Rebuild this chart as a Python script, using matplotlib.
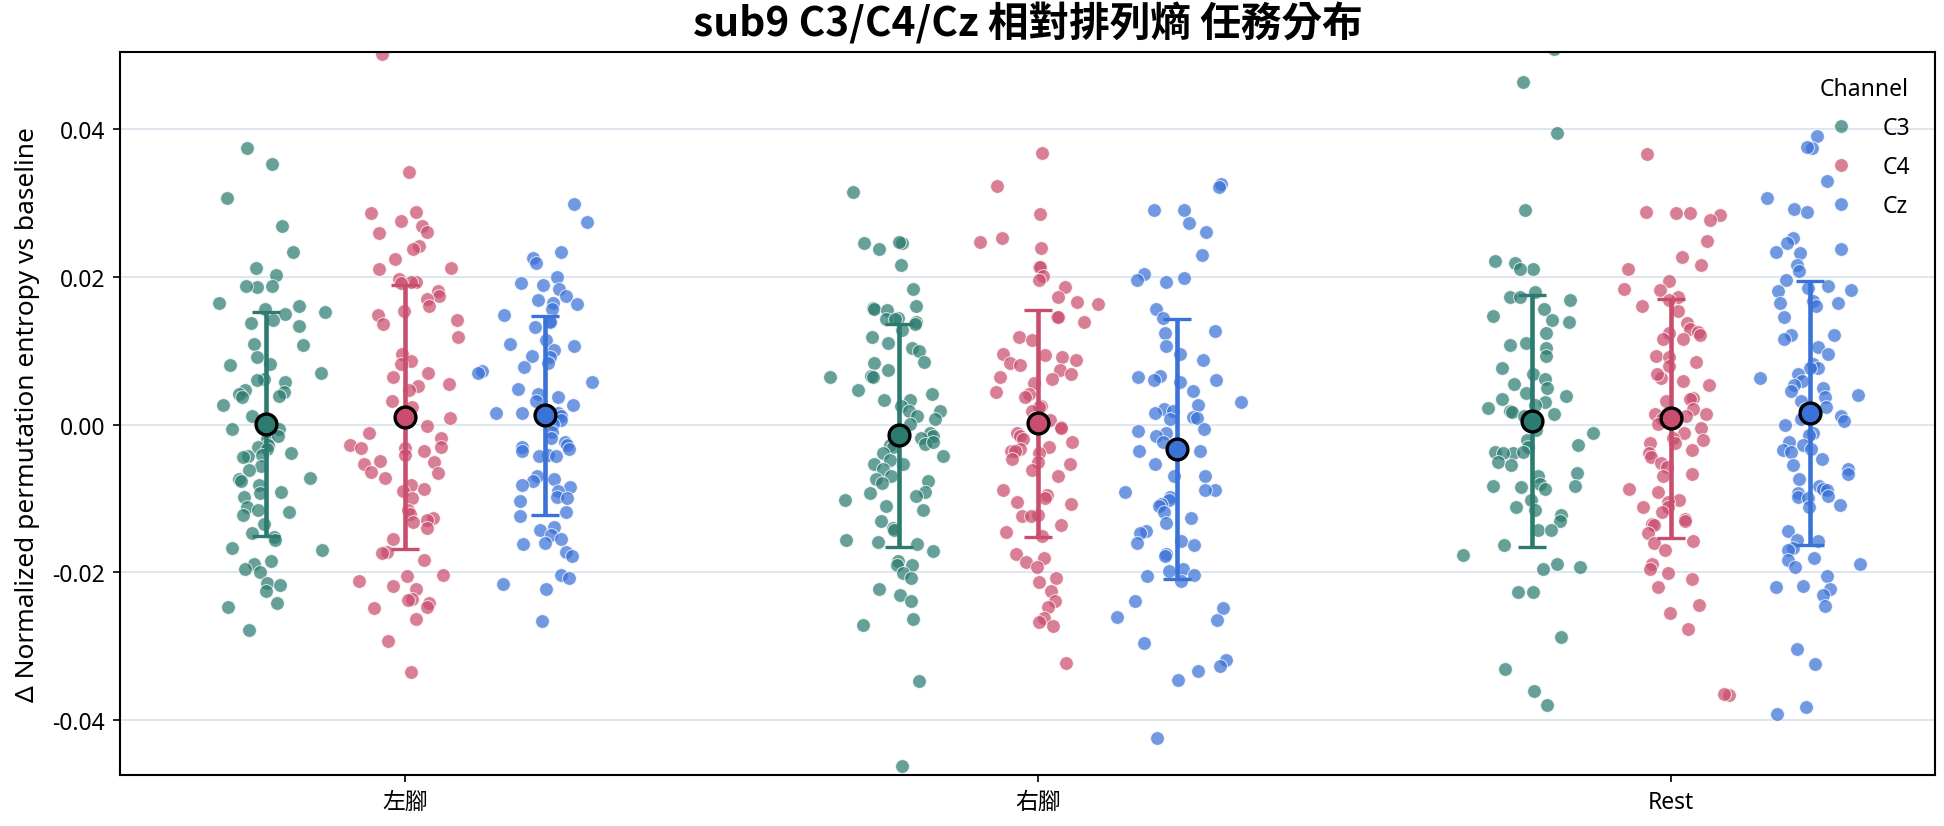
import numpy as np
import matplotlib
matplotlib.use("Agg")
from matplotlib import pyplot as plt
from matplotlib.lines import Line2D

plt.rcParams['font.family'] = ['Noto Sans', 'Noto Sans CJK TC', 'DejaVu Sans']
plt.rcParams['axes.unicode_minus'] = False

tasks = ["左腳", "右腳", "Rest"]
channels = ["C3", "C4", "Cz"]
colors = {"C3": "#2b7b70", "C4": "#c94d6d", "Cz": "#3a72d8"}

# delta normalized permutation entropy
left_c3 = [0.0374, 0.0353, 0.0307, 0.0269, 0.0233, 0.0212, 0.0202, 0.0187, 0.0186, 0.0188,
           0.0165, 0.0161, 0.0157, 0.0152, 0.0150, 0.0141, 0.0137, 0.0134, 0.0109, 0.0107,
           0.0091, 0.0082, 0.0080, 0.0070, 0.0062, 0.0060, 0.0057, 0.0047, 0.0044, 0.0042,
           0.0039, 0.0037, 0.0026, 0.0011, -0.0006, -0.0006, -0.0020, -0.0015, -0.0028, -0.0030,
           -0.0033, -0.0038, -0.0041, -0.0043, -0.0044, -0.0056, -0.0061, -0.0072, -0.0074, -0.0077,
           -0.0082, -0.0091, -0.0093, -0.0098, -0.0111, -0.0116, -0.0118, -0.0122, -0.0134, -0.0147,
           -0.0152, -0.0156, -0.0167, -0.0170, -0.0184, -0.0188, -0.0196, -0.0199, -0.0214, -0.0217,
           -0.0225, -0.0242, -0.0247, -0.0278]
left_c4 = [0.0501, 0.0342, 0.0287, 0.0286, 0.0276, 0.0269, 0.0261, 0.0259, 0.0241, 0.0237,
           0.0224, 0.0212, 0.0210, 0.0197, 0.0193, 0.0193, 0.0192, 0.0181, 0.0174, 0.0170,
           0.0161, 0.0153, 0.0148, 0.0141, 0.0136, 0.0119, 0.0095, 0.0086, 0.0082, 0.0070,
           0.0065, 0.0055, 0.0052, 0.0047, 0.0032, 0.0024, 0.0014, 0.0009, -0.0002, -0.0011,
           -0.0018, -0.0028, -0.0030, -0.0032, -0.0032, -0.0036, -0.0041, -0.0049, -0.0051, -0.0054,
           -0.0064, -0.0066, -0.0072, -0.0082, -0.0087, -0.0090, -0.0100, -0.0116, -0.0121, -0.0126,
           -0.0129, -0.0132, -0.0140, -0.0155, -0.0173, -0.0174, -0.0183, -0.0204, -0.0205, -0.0211,
           -0.0218, -0.0222, -0.0236, -0.0237, -0.0241, -0.0247, -0.0248, -0.0263, -0.0293, -0.0335]
left_cz = [0.0298, 0.0274, 0.0233, 0.0225, 0.0219, 0.0199, 0.0192, 0.0189, 0.0184, 0.0174,
           0.0168, 0.0165, 0.0163, 0.0157, 0.0148, 0.0140, 0.0139, 0.0132, 0.0114, 0.0109,
           0.0106, 0.0101, 0.0093, 0.0091, 0.0083, 0.0078, 0.0072, 0.0070, 0.0057, 0.0048,
           0.0042, 0.0037, 0.0032, 0.0026, 0.0016, 0.0015, 0.0015, 0.0012, 0.0006, 0.0001,
           -0.0010, -0.0018, -0.0023, -0.0028, -0.0030, -0.0033, -0.0036, -0.0041, -0.0043, -0.0043,
           -0.0069, -0.0074, -0.0077, -0.0082, -0.0085, -0.0090, -0.0098, -0.0100, -0.0103, -0.0118,
           -0.0124, -0.0139, -0.0142, -0.0149, -0.0155, -0.0160, -0.0162, -0.0173, -0.0178, -0.0204,
           -0.0208, -0.0215, -0.0223, -0.0266]
right_c3 = [0.0315, 0.0245, 0.0247, 0.0245, 0.0237, 0.0216, 0.0184, 0.0160, 0.0158, 0.0156,
            0.0155, 0.0144, 0.0143, 0.0143, 0.0139, 0.0136, 0.0128, 0.0119, 0.0110, 0.0104,
            0.0100, 0.0085, 0.0083, 0.0074, 0.0066, 0.0065, 0.0065, 0.0047, 0.0042, 0.0033,
            0.0033, 0.0025, 0.0018, 0.0018, 0.0012, 0.0007, 0.0001, -0.0012, -0.0015, -0.0018,
            -0.0013, -0.0026, -0.0027, -0.0024, -0.0030, -0.0039, -0.0042, -0.0048, -0.0053, -0.0054,
            -0.0060, -0.0069, -0.0073, -0.0076, -0.0079, -0.0092, -0.0091, -0.0097, -0.0102, -0.0110,
            -0.0115, -0.0130, -0.0140, -0.0142, -0.0156, -0.0159, -0.0162, -0.0171, -0.0184, -0.0190,
            -0.0190, -0.0201, -0.0207, -0.0222, -0.0231, -0.0239, -0.0263, -0.0271, -0.0347, -0.0462]
right_c4 = [0.0367, 0.0323, 0.0285, 0.0253, 0.0247, 0.0239, 0.0213, 0.0213, 0.0201, 0.0195,
            0.0186, 0.0172, 0.0166, 0.0163, 0.0146, 0.0145, 0.0139, 0.0119, 0.0115, 0.0094,
            0.0095, 0.0092, 0.0088, 0.0083, 0.0080, 0.0074, 0.0068, 0.0065, 0.0062, 0.0056,
            0.0044, 0.0041, 0.0037, 0.0025, 0.0024, 0.0019, 0.0009, 0.0007, 0.0006, -0.0003,
            -0.0005, -0.0012, -0.0015, -0.0019, -0.0024, -0.0030, -0.0033, -0.0036, -0.0036, -0.0039,
            -0.0047, -0.0050, -0.0053, -0.0062, -0.0069, -0.0088, -0.0095, -0.0100, -0.0105, -0.0108,
            -0.0122, -0.0124, -0.0124, -0.0136, -0.0145, -0.0151, -0.0175, -0.0181, -0.0186, -0.0193,
            -0.0208, -0.0213, -0.0225, -0.0239, -0.0247, -0.0262, -0.0267, -0.0272, -0.0323]
right_cz = [0.0326, 0.0322, 0.0290, 0.0290, 0.0273, 0.0260, 0.0230, 0.0204, 0.0198, 0.0196,
            0.0193, 0.0156, 0.0144, 0.0127, 0.0124, 0.0106, 0.0095, 0.0088, 0.0065, 0.0060,
            0.0066, 0.0060, 0.0057, 0.0045, 0.0031, 0.0027, 0.0021, 0.0018, 0.0015, 0.0010,
            0.0009, 0.0007, -0.0006, -0.0009, -0.0011, -0.0015, -0.0024, -0.0036, -0.0036, -0.0054,
            -0.0069, -0.0069, -0.0088, -0.0089, -0.0091, -0.0098, -0.0102, -0.0108, -0.0110, -0.0118,
            -0.0126, -0.0133, -0.0144, -0.0147, -0.0157, -0.0160, -0.0163, -0.0175, -0.0178, -0.0196,
            -0.0198, -0.0204, -0.0205, -0.0239, -0.0248, -0.0211, -0.0260, -0.0265, -0.0295, -0.0318,
            -0.0327, -0.0334, -0.0346, -0.0424]
rest_c3 = [0.0508, 0.0463, 0.0395, 0.0290, 0.0221, 0.0218, 0.0211, 0.0210, 0.0179, 0.0173,
           0.0169, 0.0173, 0.0156, 0.0147, 0.0142, 0.0139, 0.0124, 0.0111, 0.0108, 0.0103,
           0.0093, 0.0077, 0.0069, 0.0061, 0.0055, 0.0050, 0.0043, 0.0038, 0.0034, 0.0030,
           0.0027, 0.0022, 0.0019, 0.0017, 0.0014, 0.0011, 0.0003, -0.0008, -0.0012, -0.0021,
           -0.0028, -0.0031, -0.0037, -0.0039, -0.0039, -0.0037, -0.0050, -0.0055, -0.0065, -0.0070,
           -0.0081, -0.0083, -0.0083, -0.0087, -0.0085, -0.0102, -0.0112, -0.0115, -0.0123, -0.0131,
           -0.0143, -0.0143, -0.0163, -0.0176, -0.0188, -0.0193, -0.0196, -0.0227, -0.0227, -0.0288,
           -0.0330, -0.0361, -0.0380]
rest_c4 = [0.0366, 0.0284, 0.0286, 0.0277, 0.0288, 0.0286, 0.0248, 0.0226, 0.0216, 0.0210,
           0.0194, 0.0184, 0.0182, 0.0173, 0.0168, 0.0161, 0.0153, 0.0138, 0.0124, 0.0129,
           0.0125, 0.0121, 0.0116, 0.0116, 0.0093, 0.0092, 0.0085, 0.0079, 0.0063, 0.0069,
           0.0059, 0.0053, 0.0036, 0.0032, 0.0034, 0.0021, 0.0014, 0.0014, 0.0011, 0.0008,
           0.0001, -0.0005, -0.0012, -0.0018, -0.0021, -0.0025, -0.0025, -0.0034, -0.0039, -0.0044,
           -0.0052, -0.0057, -0.0067, -0.0070, -0.0087, -0.0091, -0.0102, -0.0105, -0.0112, -0.0112,
           -0.0118, -0.0128, -0.0131, -0.0134, -0.0136, -0.0147, -0.0157, -0.0160, -0.0169, -0.0188,
           -0.0196, -0.0201, -0.0209, -0.0220, -0.0244, -0.0255, -0.0277, -0.0366, -0.0364]
rest_cz = [0.0391, 0.0374, 0.0376, 0.0329, 0.0307, 0.0292, 0.0287, 0.0253, 0.0245, 0.0237,
           0.0234, 0.0232, 0.0216, 0.0208, 0.0195, 0.0187, 0.0185, 0.0182, 0.0180, 0.0167,
           0.0164, 0.0161, 0.0165, 0.0145, 0.0121, 0.0121, 0.0116, 0.0105, 0.0096, 0.0082,
           0.0076, 0.0076, 0.0069, 0.0063, 0.0059, 0.0053, 0.0050, 0.0045, 0.0040, 0.0037,
           0.0032, 0.0024, 0.0021, 0.0011, 0.0008, 0.0005, -0.0001, -0.0012, -0.0014, -0.0023,
           -0.0028, -0.0033, -0.0034, -0.0037, -0.0047, -0.0055, -0.0060, -0.0067, -0.0074, -0.0083,
           -0.0087, -0.0089, -0.0092, -0.0096, -0.0098, -0.0099, -0.0109, -0.0112, -0.0144, -0.0156,
           -0.0157, -0.0167, -0.0170, -0.0180, -0.0183, -0.0189, -0.0193, -0.0205, -0.0220, -0.0218,
           -0.0223, -0.0231, -0.0246, -0.0304, -0.0324, -0.0382, -0.0391]

data = {
    ("左腳", "C3"): left_c3, ("左腳", "C4"): left_c4, ("左腳", "Cz"): left_cz,
    ("右腳", "C3"): right_c3, ("右腳", "C4"): right_c4, ("右腳", "Cz"): right_cz,
    ("Rest", "C3"): rest_c3, ("Rest", "C4"): rest_c4, ("Rest", "Cz"): rest_cz,
}

fig = plt.figure(figsize=(12.96, 5.513), dpi=150)
ax = fig.add_axes([0.0617, 0.0617, 0.9337, 0.8743])

rng = np.random.default_rng(9)
offsets = {"C3": -0.22, "C4": 0.0, "Cz": 0.22}
for i, task in enumerate(tasks):
    for ch in channels:
        vals = np.array(data[(task, ch)])
        jit = np.clip(rng.normal(0, 0.037, len(vals)), -0.115, 0.115)
        x = i + offsets[ch]
        ax.scatter(x + jit, vals, s=44, color=colors[ch], alpha=0.72,
                   edgecolor="white", linewidth=0.5, zorder=2)
for i, task in enumerate(tasks):
    for ch in channels:
        vals = np.array(data[(task, ch)])
        x = i + offsets[ch]
        ax.errorbar(x, vals.mean(), yerr=vals.std(ddof=1), fmt="o", color=colors[ch],
                    ecolor=colors[ch], elinewidth=2.2, capsize=6.5, capthick=1.8,
                    markersize=10, markeredgecolor="black", markeredgewidth=1.6, zorder=4)

ax.set_xlim(-0.451, 2.417)
ax.set_ylim(-0.0474, 0.0504)
ax.set_xticks(range(len(tasks)))
ax.set_xticklabels(tasks)
ax.set_yticks([-0.04, -0.02, 0.0, 0.02, 0.04])
ax.set_yticklabels(["-0.04", "-0.02", "0.00", "0.02", "0.04"])
ax.tick_params(labelsize=11)
ax.grid(axis="y", color="#dce5ee", linewidth=0.9, zorder=0)
ax.set_axisbelow(True)
for sp in ax.spines.values():
    sp.set_linewidth(1.0)

ax.set_ylabel("Δ Normalized permutation entropy vs baseline", fontsize=12.6, labelpad=6)
ax.set_title("sub9 C3/C4/Cz 相對排列熵 任務分布", fontsize=19.5, fontweight="bold", pad=8,
             family=["Noto Sans CJK TC", "DejaVu Sans"])

handles = [Line2D([], [], marker="o", linestyle="", markersize=6.6, color=colors[ch],
                  alpha=0.72, markeredgecolor="white", markeredgewidth=0.5) for ch in channels]
ax.legend(handles, channels, title="Channel", loc="upper right", frameon=False,
          fontsize=11, title_fontsize=11, handletextpad=0.8, labelspacing=0.65, borderpad=0.6)

fig.savefig("out.png", dpi=150)
